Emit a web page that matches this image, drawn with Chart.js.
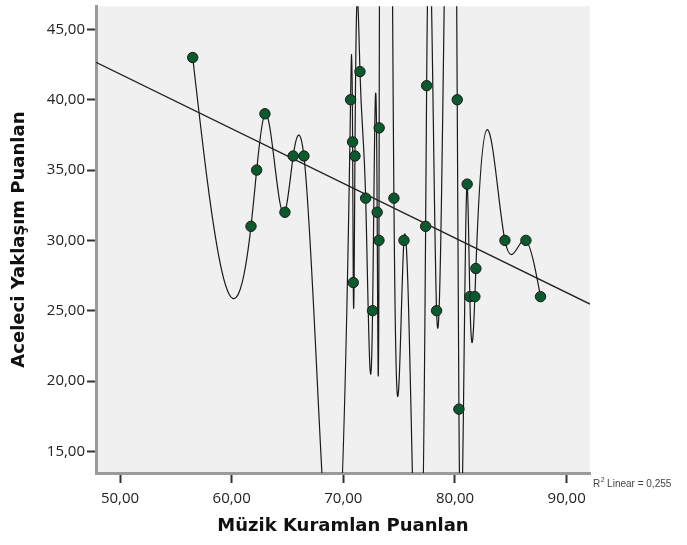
<!DOCTYPE html>
<html>
<head>
<meta charset="utf-8">
<script src="https://cdn.jsdelivr.net/npm/chart.js@4.4.1/dist/chart.umd.min.js"></script>
<style>
  html, body { margin: 0; padding: 0; background: #fff; }
  #wrap { width: 687px; height: 545px; position: relative; }
</style>
</head>
<body>
<div id="wrap"><canvas id="chart"></canvas></div>
<script>
// values (sorted by x)
const muzikPuan = [56.51, 61.73, 62.24, 62.98, 64.77, 65.51, 66.47, 70.65, 70.83, 70.89, 71.04,
    71.49, 72.00, 72.62, 73.03, 73.19, 73.21, 74.53, 75.43, 77.37, 77.46, 78.35,
    80.20, 80.35, 81.09, 81.33, 81.78, 81.87, 84.47, 86.35, 87.66];
const aceleciPuan = [43, 31, 35, 39, 32, 36, 36, 40, 37, 27, 36,
    42, 33, 25, 32, 30, 38, 33, 30, 31, 41, 25,
    40, 18, 34, 26, 26, 28, 30, 30, 26];
const xTicks = [50, 60, 70, 80, 90];
const yTicks = [15, 20, 25, 30, 35, 40, 45];
const xRange = [47.85, 92.09];
const yRange = [13.46, 46.65];
const r2Label = '0,255';

// least squares fit of the data
const n = muzikPuan.length;
const mx = muzikPuan.reduce((a, b) => a + b, 0) / n;
const my = aceleciPuan.reduce((a, b) => a + b, 0) / n;
let sxy = 0, sxx = 0;
for (let i = 0; i < n; i++) {
    sxy += (muzikPuan[i] - mx) * (aceleciPuan[i] - my);
    sxx += (muzikPuan[i] - mx) ** 2;
}
const slope = sxy / sxx;
const intercept = my - slope * mx;
const fitLine = xRange.map(x => ({ x: x, y: intercept + slope * x }));

const fmt = v => v.toFixed(2).replace('.', ',');

// plot background
const plotBg = {
    id: 'plotBg',
    beforeDraw(chart) {
        const { ctx, chartArea: a } = chart;
        ctx.save();
        ctx.fillStyle = '#f0f0f0';
        ctx.fillRect(a.left, a.top, a.right - a.left, a.bottom - a.top);
        ctx.restore();
    }
};

// natural cubic spline through the points (SPSS interpolation line)
const splineLine = {
    id: 'splineLine',
    beforeDatasetsDraw(chart) {
        const meta = chart.getDatasetMeta(0);
        const pts = meta.data.map(p => ({ x: p.x, y: p.y })).sort((a, b) => a.x - b.x);
        const m = pts.length;
        if (m < 3) return;
        const h = [], M = new Array(m).fill(0);
        for (let i = 0; i < m - 1; i++) h.push(pts[i + 1].x - pts[i].x);
        // tridiagonal solve
        const a = [], b = [], c = [], d = [];
        for (let i = 1; i < m - 1; i++) {
            a.push(h[i - 1]);
            b.push(2 * (h[i - 1] + h[i]));
            c.push(h[i]);
            d.push(6 * ((pts[i + 1].y - pts[i].y) / h[i] - (pts[i].y - pts[i - 1].y) / h[i - 1]));
        }
        const k = b.length;
        for (let i = 1; i < k; i++) {
            const w = a[i] / b[i - 1];
            b[i] -= w * c[i - 1];
            d[i] -= w * d[i - 1];
        }
        const sol = new Array(k);
        sol[k - 1] = d[k - 1] / b[k - 1];
        for (let i = k - 2; i >= 0; i--) sol[i] = (d[i] - c[i] * sol[i + 1]) / b[i];
        for (let i = 0; i < k; i++) M[i + 1] = sol[i];

        const { ctx, chartArea: area } = chart;
        ctx.save();
        ctx.beginPath();
        ctx.rect(area.left, area.top, area.right - area.left, area.bottom - area.top);
        ctx.clip();
        ctx.beginPath();
        ctx.moveTo(pts[0].x, pts[0].y);
        for (let i = 0; i < m - 1; i++) {
            const hi = h[i];
            const s = (pts[i + 1].y - pts[i].y) / hi;
            const m0 = s - hi * (2 * M[i] + M[i + 1]) / 6;
            const m1 = s + hi * (M[i] + 2 * M[i + 1]) / 6;
            ctx.bezierCurveTo(
                pts[i].x + hi / 3, pts[i].y + m0 * hi / 3,
                pts[i + 1].x - hi / 3, pts[i + 1].y - m1 * hi / 3,
                pts[i + 1].x, pts[i + 1].y);
        }
        ctx.strokeStyle = '#1a1a1a';
        ctx.lineWidth = 1.2;
        ctx.stroke();
        ctx.restore();
    }
};

// R² note at lower right
const r2Note = {
    id: 'r2Note',
    afterDraw(chart) {
        const { ctx, chartArea: a } = chart;
        ctx.save();
        ctx.fillStyle = '#444';
        ctx.textBaseline = 'middle';
        let x = a.right + 3;
        const y = a.bottom + 11;
        ctx.font = '10px "Liberation Sans", sans-serif';
        ctx.fillText('R', x, y);
        x += ctx.measureText('R').width;
        ctx.font = '7px "Liberation Sans", sans-serif';
        ctx.fillText('2', x + 0.5, y - 4);
        x += ctx.measureText('2').width + 3;
        ctx.font = '10px "Liberation Sans", sans-serif';
        ctx.fillText('Linear = ' + r2Label, x, y);
        ctx.restore();
    }
};

new Chart(document.getElementById('chart'), {
    type: 'scatter',
    data: {
        datasets: [
            {
                label: 'points',
                data: muzikPuan.map((x, i) => ({ x: x, y: aceleciPuan[i] })),
                backgroundColor: '#0b5a2e',
                borderColor: '#1a1a1a',
                borderWidth: 1,
                pointRadius: 5.2,
                pointHoverRadius: 5.2
            },
            {
                label: 'fit',
                type: 'line',
                data: fitLine,
                borderColor: '#222',
                borderWidth: 1.3,
                pointRadius: 0,
                fill: false
            }
        ]
    },
    options: {
        responsive: true,
        maintainAspectRatio: false,
        animation: false,
        layout: { padding: { top: 5, right: 97, left: 0, bottom: 0 } },
        plugins: {
            legend: { display: false },
            tooltip: { enabled: false }
        },
        scales: {
            x: {
                type: 'linear',
                min: xRange[0],
                max: xRange[1],
                afterBuildTicks: s => { s.ticks = xTicks.map(v => ({ value: v })); },
                afterFit: s => { s.height = 72; s.paddingLeft = 0; s.paddingRight = 0; },
                ticks: {
                    callback: v => fmt(v),
                    font: { family: '"Open Sans", sans-serif', size: 15 },
                    color: '#222',
                    padding: 7,
                    maxRotation: 0
                },
                grid: { drawOnChartArea: false, tickLength: 10, tickColor: '#333', tickWidth: 2 },
                border: { display: true, color: '#9a9a9a', width: 3 },
                title: {
                    display: true,
                    text: 'Müzik Kuramlan Puanlan',
                    font: { family: '"DejaVu Sans", sans-serif', size: 18, weight: 'bold' },
                    color: '#111',
                    padding: { top: 0, bottom: 8 }
                }
            },
            y: {
                type: 'linear',
                min: yRange[0],
                max: yRange[1],
                afterBuildTicks: s => { s.ticks = yTicks.map(v => ({ value: v })); },
                afterFit: s => { s.width = 96; s.paddingTop = 0; s.paddingBottom = 0; },
                ticks: {
                    callback: v => fmt(v),
                    font: { family: '"Open Sans", sans-serif', size: 15 },
                    color: '#222',
                    padding: 2
                },
                grid: { drawOnChartArea: false, tickLength: 9, tickColor: '#333', tickWidth: 2 },
                border: { display: true, color: '#9a9a9a', width: 3 },
                title: {
                    display: true,
                    text: 'Aceleci Yaklaşım Puanlan',
                    font: { family: '"DejaVu Sans", sans-serif', size: 18, weight: 'bold' },
                    color: '#111',
                    padding: { top: 9, bottom: 0 }
                }
            }
        }
    },
    plugins: [plotBg, splineLine, r2Note]
});
</script>
</body>
</html>
